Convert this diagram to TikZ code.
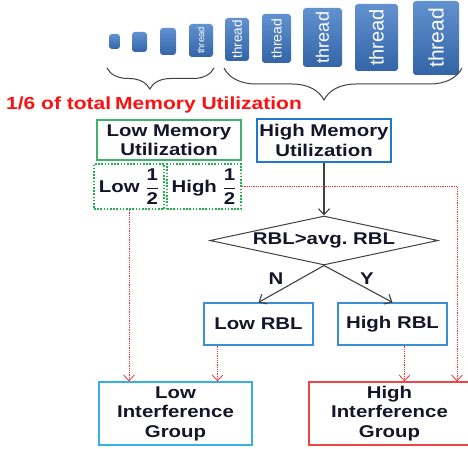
\documentclass[tikz,border=0pt]{standalone}
\usepackage{amsmath}
\usepackage{fontspec}
\setmainfont[FakeStretch=1.2]{Liberation Sans}
\newfontfamily\threadfont{Liberation Sans}
\usepackage{tikz}
\usetikzlibrary{shapes.geometric,arrows.meta,positioning,decorations.pathreplacing}

\definecolor{threadblue}{HTML}{3B76C4}
\definecolor{lowgreen}{HTML}{3DB36B}
\definecolor{dotgreen}{HTML}{1FB04A}
\definecolor{memblue}{HTML}{1F78C8}
\definecolor{rblblue}{HTML}{3A8FD6}
\definecolor{grpblue}{HTML}{35B0E8}
\definecolor{grpred}{HTML}{F04545}
\definecolor{titlered}{HTML}{FF1010}
\definecolor{arrowred}{HTML}{FF2E2E}
\definecolor{inkdark}{HTML}{15152A}
\definecolor{linegray}{HTML}{404040}

\tikzset{
  threadbox/.style={rotate=90, rounded corners=3pt, top color=threadblue!80!white,
    bottom color=threadblue!85!black, text=white, inner sep=0pt},
  membox/.style={draw, line width=1.2pt, align=center, inner sep=0pt, text=inkdark,
    font=\bfseries\fontsize{17}{19.5}\selectfont},
  halfbox/.style={membox, draw=dotgreen, line width=1.6pt, dash pattern=on 1.6pt off 1.6pt},
  decision/.style={diamond, draw=linegray, line width=1pt, aspect=4.6, inner sep=0pt,
    minimum width=228pt, minimum height=49pt, text=inkdark,
    font=\bfseries\fontsize{17}{19}\selectfont},
  lbl/.style={text=inkdark, font=\bfseries\fontsize{17}{19}\selectfont},
  flowarrow/.style={draw=linegray, line width=1.1pt, -{Straight Barb[length=6pt,width=11pt]}},
  redarrow/.style={draw=arrowred, line width=0.8pt, dash pattern=on 1pt off 0.8pt,
    -{Straight Barb[length=6pt,width=11pt]}},
  bracemark/.style={draw=linegray, line width=1pt, decorate}
}

\begin{document}
\begin{tikzpicture}[x=1pt, y=-1pt]
    \useasboundingbox (0,0) rectangle (468,449);

    % Threads, growing
    \node[threadbox, minimum width=15pt, minimum height=11pt] (t1) at (114.5,41.5) {};
    \node[threadbox, minimum width=20pt, minimum height=15pt] (t2) at (139.5,42) {};
    \node[threadbox, minimum width=27pt, minimum height=16pt] (t3) at (168,41.5) {};
    \node[threadbox, minimum width=33pt, minimum height=24pt] (t4) at (201,40.5)
        {\threadfont\fontsize{9.5}{10}\selectfont thread};
    \node[threadbox, minimum width=43pt, minimum height=24pt] (t5) at (237,39.5)
        {\threadfont\fontsize{13.5}{14}\selectfont thread};
    \node[threadbox, minimum width=49pt, minimum height=29pt] (t6) at (276.5,38.5)
        {\threadfont\fontsize{14}{15}\selectfont thread};
    \node[threadbox, minimum width=59pt, minimum height=39pt] (t7) at (322.5,37.5)
        {\threadfont\fontsize{18}{19}\selectfont thread};
    \node[threadbox, minimum width=67pt, minimum height=43pt] (t8) at (376.5,37.5)
        {\threadfont\fontsize{20}{21}\selectfont thread};
    \node[threadbox, minimum width=74pt, minimum height=46pt] (t9) at (436,38)
        {\threadfont\fontsize{21}{22}\selectfont thread};

    % Braces under the threads
    \draw[bracemark, decoration={brace, mirror, amplitude=21pt, aspect=0.4}]
        (107,68) -- (214,68);
    \draw[bracemark, decoration={brace, mirror, amplitude=32pt, aspect=0.42}]
        (224,68) -- (462,68);

    \node[anchor=west, text=titlered, inner sep=0pt,
          font=\bfseries\fontsize{17.5}{21}\selectfont] (title) at (6,104.5)
        {1/6 of total\hspace{4pt}Memory Utilization};

    % Memory utilization boxes
    \node[membox, draw=lowgreen, minimum width=144pt, minimum height=40pt] (lowmem)
        at (169,140) {Low Memory\\Utilization};
    \node[membox, draw=memblue, minimum width=134pt, minimum height=43pt] (highmem)
        at (324,140.5) {High Memory\\Utilization};
    \node[halfbox, minimum width=70pt, minimum height=45pt] (lowhalf)
        at (129,186.5) {Low $\dfrac{\text{1}}{\text{2}}$};
    \node[halfbox, minimum width=74pt, minimum height=45pt] (highhalf)
        at (204,186.5) {High $\dfrac{\text{1}}{\text{2}}$};

    % Decision
    \node[decision] (dec) at (324,240.5) {RBL>avg.\ RBL};
    \node[lbl] (nlbl) at (276,279) {N};
    \node[lbl] (ylbl) at (367,279) {Y};

    \node[membox, draw=rblblue, minimum width=109pt, minimum height=42pt] (lowrbl)
        at (258.5,324) {Low RBL};
    \node[membox, draw=rblblue, minimum width=109pt, minimum height=42pt] (highrbl)
        at (392.5,324) {High RBL};

    % Groups
    \node[membox, draw=grpblue, minimum width=153pt, minimum height=63pt] (lowgrp)
        at (175.5,413.5) {Low\\Interference\\Group};
    \node[membox, draw=grpred, minimum width=161pt, minimum height=63pt] (highgrp)
        at (389.5,413.5) {High\\Interference\\Group};

    % Flow
    \draw[flowarrow] (highmem.south) -- (dec.north);
    \draw[flowarrow] (dec.south) -- (lowrbl.north);
    \draw[flowarrow] (dec.south) -- (highrbl.north);

    % Red dotted links
    \coordinate (lr) at ([xshift=-41pt]lowrbl.south);
    \coordinate (hr) at ([xshift=12pt]highrbl.south);
    \coordinate (hcorner) at (457,186.5);
    \draw[redarrow] (lowhalf.south) -- (lowhalf.south |- lowgrp.north);
    \draw[redarrow] (lr) -- (lr |- lowgrp.north);
    \draw[redarrow] (hr) -- (hr |- highgrp.north);
    \draw[redarrow] (highhalf.east) -- (hcorner) -- (hcorner |- highgrp.north);
\end{tikzpicture}
\end{document}
